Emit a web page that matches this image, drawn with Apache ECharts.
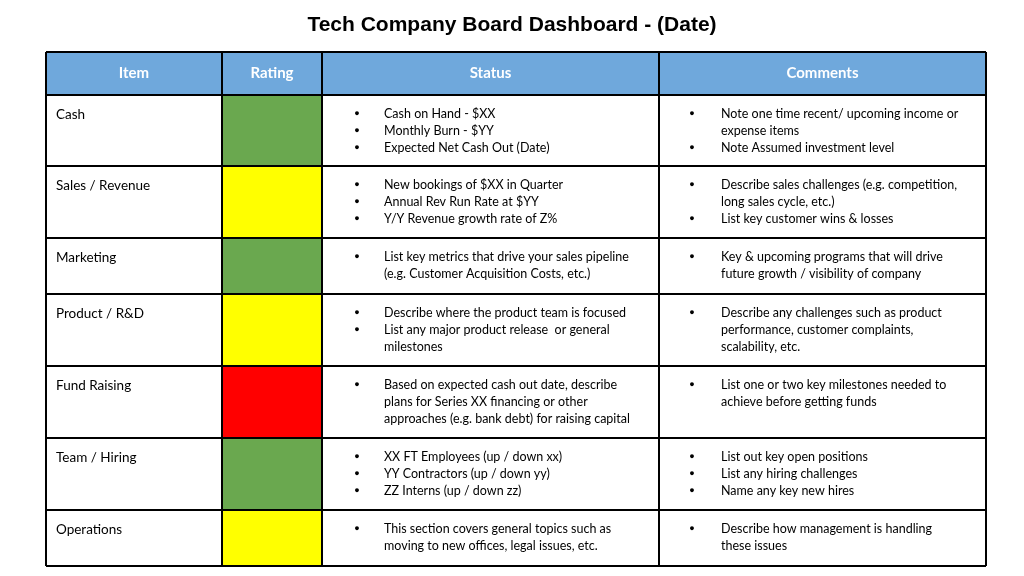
<!DOCTYPE html>
<html><head><meta charset="utf-8">
<script src="https://cdn.jsdelivr.net/npm/echarts@6/dist/echarts.min.js"></script>
<style>html,body{margin:0;padding:0;background:#fff}#main{width:1024px;height:576px}</style>
</head><body><div id="main"></div>
<script>
var myChart = echarts.init(document.getElementById('main'));

var headers = ['Item', 'Rating', 'Status', 'Comments'];
var items = ['Cash', 'Sales / Revenue', 'Marketing', 'Product / R&D', 'Fund Raising', 'Team / Hiring', 'Operations'];
var ratings = ['green', 'yellow', 'green', 'yellow', 'red', 'green', 'yellow'];
var statusText = [
    [['Cash on Hand - $XX'], ['Monthly Burn - $YY'], ['Expected Net Cash Out (Date)']],
    [['New bookings of $XX in Quarter'], ['Annual Rev Run Rate at $YY'], ['Y/Y Revenue growth rate of Z%']],
    [['List key metrics that drive your sales pipeline', '(e.g. Customer Acquisition Costs, etc.)']],
    [['Describe where the product team is focused'], ['List any major product release  or general', 'milestones']],
    [['Based on expected cash out date, describe', 'plans for Series XX financing or other', 'approaches (e.g. bank debt) for raising capital']],
    [['XX FT Employees (up / down xx)'], ['YY Contractors (up / down yy)'], ['ZZ Interns (up / down zz)']],
    [['This section covers general topics such as', 'moving to new offices, legal issues, etc.']]
];
var commentText = [
    [['Note one time recent/ upcoming income or', 'expense items'], ['Note Assumed investment level']],
    [['Describe sales challenges (e.g. competition,', 'long sales cycle, etc.)'], ['List key customer wins & losses']],
    [['Key & upcoming programs that will drive', 'future growth / visibility of company']],
    [['Describe any challenges such as product', 'performance, customer complaints,', 'scalability, etc.']],
    [['List one or two key milestones needed to', 'achieve before getting funds']],
    [['List out key open positions'], ['List any hiring challenges'], ['Name any key new hires']],
    [['Describe how management is handling', 'these issues']]
];

// layout
var colX = [46, 222, 322, 659, 986];
var headTop = 52, headBottom = 95;
var rowY = [95, 166, 238, 294, 366, 438, 510, 566];
var lineH = 17;
var colors = { green: '#6aa84f', yellow: '#ffff00', red: '#ff0000' };
var font = 'Lato, "Open Sans", sans-serif';

var g = [];
g.push({ type: 'rect', shape: { x: colX[0], y: headTop, width: colX[4] - colX[0], height: headBottom - headTop }, style: { fill: '#6fa8dc' } });
headers.forEach(function (h, i) {
    g.push({ type: 'text', x: (colX[i] + colX[i + 1]) / 2, y: (headTop + headBottom) / 2,
        style: { text: h, fill: '#fff', font: 'bold 15px ' + font, align: 'center', verticalAlign: 'middle' } });
});

function bulletCell(list, bx, tx, top) {
    var n = 0;
    list.forEach(function (lines) {
        lines.forEach(function (l, k) {
            var y = top + 19 + n * lineH;
            if (k === 0) g.push({ type: 'text', x: bx, y: y, style: { text: '●', fill: '#000', font: '9px sans-serif', align: 'center', verticalAlign: 'middle' } });
            g.push({ type: 'text', x: tx, y: y, style: { text: l, fill: '#000', font: '12.5px ' + font, verticalAlign: 'middle' } });
            n++;
        });
    });
}

items.forEach(function (it, r) {
    var top = rowY[r], bot = rowY[r + 1];
    g.push({ type: 'rect', shape: { x: colX[1], y: top, width: colX[2] - colX[1], height: bot - top }, style: { fill: colors[ratings[r]] } });
    g.push({ type: 'text', x: 56, y: top + 20, style: { text: it, fill: '#000', font: '13.5px ' + font, verticalAlign: 'middle' } });
    bulletCell(statusText[r], 357, 384, top);
    bulletCell(commentText[r], 692, 721, top);
});

// grid lines
var ys = [headTop].concat(rowY);
ys.forEach(function (y) {
    g.push({ type: 'line', shape: { x1: colX[0], y1: y, x2: colX[4], y2: y }, style: { stroke: '#000', lineWidth: 2 } });
});
colX.forEach(function (x) {
    g.push({ type: 'line', shape: { x1: x, y1: headTop, x2: x, y2: rowY[rowY.length - 1] }, style: { stroke: '#000', lineWidth: 2 } });
});

option = {
    title: {
        text: 'Tech Company Board Dashboard - (Date)',
        left: 'center',
        top: 10,
        textStyle: { fontFamily: 'Liberation Sans, Arial', fontSize: 21, fontWeight: 'bold', color: '#000' }
    },
    graphic: g
};
myChart.setOption(option);
</script>
</body></html>
